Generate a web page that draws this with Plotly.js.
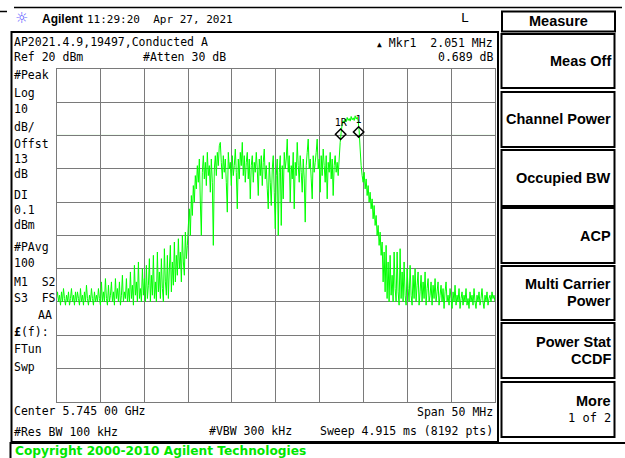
<!DOCTYPE html>
<html><head><meta charset="utf-8">
<script src="https://cdn.plot.ly/plotly-3.0.1.min.js"></script>
<style>html,body{margin:0;padding:0;background:#fff;}#chart{width:625px;height:458px;}</style>
</head><body><div id="chart"></div>
<script>
// ---- instrument settings / data ----
const startFreqMHz = 5720;
const stopFreqMHz = 5770;
const refLevel_dBm = 20;
const bottomLevel_dBm = -80;
const freqDivMHz = 5;
const ampDiv_dB = 10;
const displayLine_dBm = 0.1;

const traceLevels_dBm = [
 -49,-47,-50,-48,-51,-47,-50,-46,-49,-51,-48,-50,-47,-51,-49,-46,-50,-48,-51,-47,
 -50,-47,-49,-51,-46,-50,-48,-51,-47,-50,-45,-49,-51,-48,-50,-46,-49,-51,-47,-50,
 -48,-50,-46,-49,-51,-44,-50,-47,-50,-43,-49,-51,-45,-50,-48,-44,-50,-47,-51,-43,
 -49,-46,-50,-44,-51,-48,-42,-50,-47,-49,-43,-50,-46,-50,-41,-49,-45,-51,-39,-48,
 -44,-50,-38,-49,-46,-50,-40,-48,-43,-50,-39,-49,-45,-37,-50,-42,-48,-36,-49,-44,
 -50,-35,-47,-41,-49,-37,-46,-50,-34,-44,-48,-36,-49,-40,-33,-47,-38,-45,-32,-44,
 -36,-42,-31,-40,-35,-44,-30,-38,-42,-29,-37,-33,-27,-22,-30,-18,-24,-15,-20,-12,
 -16,-9,-14,-7,-20,-30,-11,-6,-13,-8,-15,-5,-12,-9,-17,-7,-14,-33,-10,-6,
 -12,-5,-9,-3,-2,-8,-13,-6,-11,-7,-14,-23,-5,-10,-8,-15,-6,-12,-9,-4,
 -11,-22,-7,-13,-5,-9,-2,-12,-6,-14,-8,-5,-13,-7,-19,-9,-6,-14,-8,-11,
 -5,-10,-18,-7,-12,-6,-15,-8,-4,-13,-9,-16,-22,-8,-14,-21,-10,-6,-17,-28,
 -12,-7,-30,-11,-6,-27,-9,-19,-5,-10,-7,-1,-11,-6,-20,-9,-13,-5,-22,-8,
 -12,-2,-9,-14,-6,-11,-17,-7,-13,-26,-9,-5,-1,-10,-7,-13,-19,-6,-11,-8,
 -5,-1,-10,-7,-17,-6,-12,-4,-9,-14,-6,-19,-8,-11,-5,-13,-7,-18,-9,-6,
 -11,-8,-12,-7,-2,1,3.5,4.5,3.8,5,4.2,5.5,4.6,5.2,4.4,5.8,4.8,5.4,4.6,6,
 5,5.6,4.5,1.5,-4,-9,-12,-14,-11,-16,-13,-18,-15,-20,-17,-22,-19,-25,-21,-27,
 -24,-30,-27,-33,-29,-36,-32,-44,-35,-47,-33,-49,-38,-50,-36,-48,-42,-50,-35,-46,
 -50,-35,-47,-51,-34,-49,-41,-50,-38,-48,-51,-40,-46,-50,-39,-48,-51,-42,-49,-40,
 -50,-45,-41,-51,-47,-42,-50,-44,-49,-41,-51,-46,-43,-50,-48,-44,-51,-45,-49,-43,
 -50,-47,-44,-51,-48,-45,-50,-46,-52,-47,-44,-50,-48,-51,-46,-49,-52,-47,-50,-45,
 -51,-48,-50,-46,-52,-49,-47,-51,-48,-50,-46,-51,-49,-52,-47,-50,-48,-51,-46,-50,
 -52,-48,-50,-47,-51,-49,-46,-50,-52,-48,-50,-47,-51,-49,-48,-50,-47,-49,-48,-50
];

const markerFreqsMHz = [5752.4, 5754.45];
const markerLevels_dBm = [0.45, 1.14];
const markerLabels = ['1R', '1'];

const leftPanelLabels = ['#Peak','Log','10','dB/','Offst','13','dB','DI','0.1','dBm','#PAvg','100','M1\u00a0\u00a0S2','S3\u00a0\u00a0FS','','<b>£</b>(f):','FTun','Swp'];
const softkeyLabels = [['Meas Off'],['Channel Power'],['Occupied BW'],['ACP'],['Multi Carrier','Power'],['Power Stat','CCDF'],['More','1 of 2']];

// ---- layout helpers ----
const W = 625, H = 458;
const px = x => x / W;
const py = y => 1 - y / H;
const MONO = 'DejaVu Sans Mono';
const BOLD = 'Liberation Sans';

const n = traceLevels_dBm.length;
const freqs = traceLevels_dBm.map((_, i) => startFreqMHz + i * (stopFreqMHz - startFreqMHz) / (n - 1));

function T(text, x, y, o) {
  return Object.assign({xref:'paper', yref:'paper', x: px(x), y: py(y), text: text, showarrow:false,
    xanchor:'left', yanchor:'middle', borderpad:0,
    font:{family:MONO, size:11.5, color:'#000'}}, o || {});
}
function rect(x0, y0, x1, y1, w, c) {
  return {type:'rect', xref:'paper', yref:'paper', x0:px(x0), x1:px(x1), y0:py(y0), y1:py(y1),
    line:{color:c || '#000', width:w || 2}, fillcolor:'rgba(0,0,0,0)', layer:'above'};
}
function hline(x0, x1, y, w) {
  return {type:'line', xref:'paper', yref:'paper', x0:px(x0), x1:px(x1), y0:py(y), y1:py(y),
    line:{color:'#000', width:w || 1.5}, layer:'above'};
}

const annotations = [];
const shapes = [];

// top bar
shapes.push(hline(14, 622, 7.5, 1.5));
shapes.push(hline(0, 7, 11.5, 1.5));
annotations.push(T('☼', 14, 18, {font:{family:'DejaVu Sans', size:15, color:'#5a5aff'}}));
annotations.push(T('<b>Agilent</b>', 41, 19, {font:{family:BOLD, size:12, color:'#000'}}));
annotations.push(T('11:29:20\u00a0\u00a0Apr 27, 2021', 86, 19, {font:{family:MONO, size:11, color:'#000'}}));
annotations.push(T('L', 460, 18, {font:{family:MONO, size:13, color:'#000'}}));

// main box
shapes.push(rect(11.5, 32, 498, 442, 2));

// header lines
annotations.push(T('AP2021.4.9,19497,Conducted A', 13, 42.5));
annotations.push(T('Ref 20 dBm', 13, 57));
annotations.push(T('#Atten 30 dB', 142, 57));
annotations.push(T('<span style="font-size:8px">▲</span> Mkr1\u00a0\u00a02.051 MHz', 494, 43, {xanchor:'right'}));
annotations.push(T('0.689 dB', 494, 57, {xanchor:'right'}));

// left panel
const leftY = [75,93,109,127,144,159,174,195,210,225,247,263,282,298,315,332,349,367];
leftPanelLabels.forEach((t, i) => { if (t) annotations.push(T(t, 13, leftY[i])); });
annotations.push(T('AA', 53, 315, {xanchor:'right'}));

// bottom lines
annotations.push(T('Center 5.745 00 GHz', 13, 411));
annotations.push(T('Span 50 MHz', 494, 411.5, {xanchor:'right'}));
annotations.push(T('#Res BW 100 kHz', 13, 432));
annotations.push(T('#VBW 300 kHz', 208, 431));
annotations.push(T('Sweep 4.915 ms (8192 pts)', 494, 431, {xanchor:'right'}));

// copyright
shapes.push(rect(10.5, 443, 627, 462, 2));
annotations.push(T('<b>Copyright 2000-2010 Agilent Technologies</b>', 14, 450.5, {font:{family:'DejaVu Sans', size:12.2, color:'#00e600'}}));

// softkeys
shapes.push(rect(502, 11.5, 615, 31.5, 2));
annotations.push(T('<b>Measure</b>', 558.5, 21, {xanchor:'center', font:{family:BOLD, size:14.5, color:'#000'}}));
const keyTop = [34, 92, 150, 208, 266, 323, 382];
const keyBot = [88, 147, 206, 263, 320, 378, 437];
softkeyLabels.forEach((lab, k) => {
  shapes.push(rect(501.5, keyTop[k], 614.5, keyBot[k], 2));
  const mid = (keyTop[k] + keyBot[k]) / 2;
  if (lab.length === 1) {
    annotations.push(T('<b>' + lab[0] + '</b>', 612, mid, {xanchor:'right', font:{family:BOLD, size:14.5, color:'#000'}}));
  } else {
    annotations.push(T('<b>' + lab[0] + '</b>', 612, mid - 9, {xanchor:'right', font:{family:BOLD, size:14.5, color:'#000'}}));
    if (lab[1] === '1 of 2') {
      annotations.push(T(lab[1], 612, mid + 8, {xanchor:'right', font:{family:MONO, size:12, color:'#000'}}));
    } else {
      annotations.push(T('<b>' + lab[1] + '</b>', 612, mid + 8, {xanchor:'right', font:{family:BOLD, size:14.5, color:'#000'}}));
    }
  }
});

// display line
shapes.push({type:'line', xref:'x', yref:'y', x0:startFreqMHz, x1:stopFreqMHz, y0:displayLine_dBm, y1:displayLine_dBm,
  line:{color:'#66ee66', width:1}, layer:'below'});

const traces = [
  {type:'scatter', mode:'lines', x:freqs, y:traceLevels_dBm, line:{color:'#00ff00', width:1, simplify:false}, hoverinfo:'skip'},
  {type:'scatter', mode:'markers+text', x:markerFreqsMHz, y:markerLevels_dBm, text:markerLabels, textposition:'top center',
    textfont:{family:MONO, size:10, color:'#000'},
    marker:{symbol:'diamond-open', size:8, color:'#000', line:{width:1.5, color:'#000'}}, hoverinfo:'skip'}
];

const axisCommon = {showgrid:true, gridcolor:'#7a7a7a', gridwidth:1, zeroline:false, showticklabels:false,
  ticks:'', showline:true, mirror:true, linecolor:'#7a7a7a', linewidth:1, fixedrange:true};

const layout = {
  width:W, height:H, margin:{l:0, r:0, t:0, b:0, pad:0},
  paper_bgcolor:'#fff', plot_bgcolor:'#fff', showlegend:false,
  xaxis:Object.assign({}, axisCommon, {domain:[px(56.5), px(495)], range:[startFreqMHz, stopFreqMHz], tick0:startFreqMHz, dtick:freqDivMHz}),
  yaxis:Object.assign({}, axisCommon, {domain:[py(401.5), py(69.3)], range:[bottomLevel_dBm, refLevel_dBm], tick0:bottomLevel_dBm, dtick:ampDiv_dB}),
  shapes:shapes, annotations:annotations
};

Plotly.newPlot('chart', traces, layout, {staticPlot:true, displayModeBar:false});
</script>
</body></html>
